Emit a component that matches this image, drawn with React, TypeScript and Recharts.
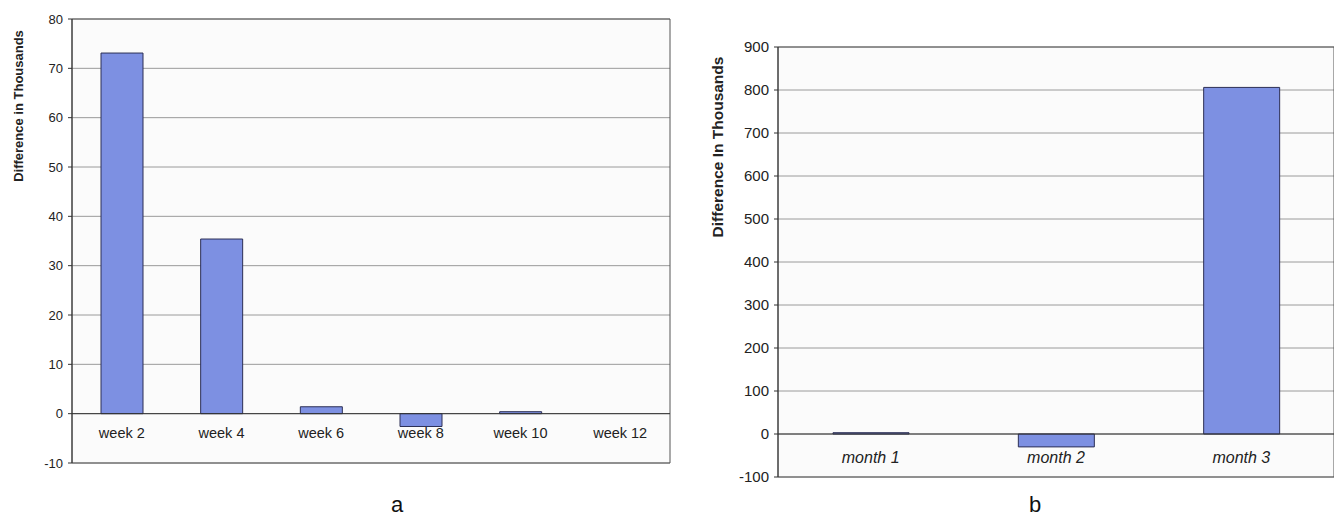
import React from 'react';
import {
  BarChart,
  Bar,
  XAxis,
  YAxis,
  CartesianGrid,
  ReferenceLine,
  ReferenceArea,
} from 'recharts';

const weekLabels = ['week 2', 'week 4', 'week 6', 'week 8', 'week 10', 'week 12'];
const weekValues = [73.1, 35.4, 1.4, -2.6, 0.4, 0];
const weekTicks = [-10, 0, 10, 20, 30, 40, 50, 60, 70, 80];

const monthLabels = ['month 1', 'month 2', 'month 3'];
const monthValues = [3, -30, 806];
const monthTicks = [-100, 0, 100, 200, 300, 400, 500, 600, 700, 800, 900];

const weekData = weekLabels.map((name, i) => ({ name, value: weekValues[i] }));
const monthData = monthLabels.map((name, i) => ({ name, value: monthValues[i] }));

const FONT = 'Arial, "Liberation Sans", Helvetica, sans-serif';
const BAR_FILL = '#7d90e2';
const BAR_STROKE = '#2c2f55';
const GRID = '#9a9a9a';

// x labels sit just under the zero line, inside the plot
const ZeroTick = ({ x, y, payload, dy, fontSize, italic }: any) => (
  <text
    x={x}
    y={y}
    dy={dy}
    textAnchor="middle"
    fill="#222"
    fontSize={fontSize}
    fontFamily={FONT}
    fontStyle={italic ? 'italic' : 'normal'}
  >
    {payload.value}
  </text>
);

const sideLabel = (cx: number, cy: number, size: number): React.CSSProperties => ({
  position: 'absolute',
  left: cx,
  top: cy,
  transform: 'translate(-50%, -50%) rotate(-90deg)',
  whiteSpace: 'nowrap',
  fontFamily: FONT,
  fontSize: size,
  fontWeight: 'bold',
  color: '#222',
});

export default function App() {
  return (
    <div
      style={{
        position: 'absolute',
        left: 0,
        top: 0,
        width: 1334,
        height: 532,
        overflow: 'hidden',
        background: '#fff',
        fontFamily: FONT,
      }}
    >
      {/* chart a */}
      <div style={{ position: 'absolute', left: 0, top: 0 }}>
        <BarChart
          width={680}
          height={532}
          data={weekData}
          margin={{ top: 19, right: 10, left: 32, bottom: 39 }}
          barCategoryGap={0}
        >
          <CartesianGrid vertical={false} stroke={GRID} fill="#fbfbfb" />
          <XAxis
            dataKey="name"
            axisLine={false}
            tickLine={false}
            tickSize={0}
            tickMargin={0}
            height={30}
            interval={0}
            tick={<ZeroTick dy={-25} fontSize={14.5} />}
          />
          <YAxis
            domain={[-10, 80]}
            ticks={weekTicks}
            width={40}
            interval={0}
            axisLine={{ stroke: '#333' }}
            tickLine={{ stroke: '#333' }}
            tickSize={4}
            tickMargin={5}
            tick={{ fill: '#222', fontSize: 13, fontFamily: FONT }}
          />
          <ReferenceArea y1={-10} y2={80} fill="none" stroke="#555" />
          <ReferenceLine y={0} stroke="#333" />
          <Bar
            dataKey="value"
            barSize={42}
            fill={BAR_FILL}
            stroke={BAR_STROKE}
            strokeWidth={1}
            isAnimationActive={false}
          />
        </BarChart>
      </div>
      <div style={sideLabel(18, 106, 13)}>Difference in Thousands</div>

      {/* chart b */}
      <div style={{ position: 'absolute', left: 680, top: 0 }}>
        <BarChart
          width={654}
          height={532}
          data={monthData}
          margin={{ top: 47, right: 0, left: 48, bottom: 25 }}
          barCategoryGap={0}
        >
          <CartesianGrid vertical={false} stroke={GRID} fill="#fbfbfb" />
          <XAxis
            dataKey="name"
            axisLine={false}
            tickLine={false}
            tickSize={0}
            tickMargin={0}
            height={30}
            interval={0}
            tick={<ZeroTick dy={-14} fontSize={16} italic />}
          />
          <YAxis
            domain={[-100, 900]}
            ticks={monthTicks}
            width={50}
            interval={0}
            axisLine={{ stroke: '#333' }}
            tickLine={{ stroke: '#333' }}
            tickSize={4}
            tickMargin={5}
            tick={{ fill: '#222', fontSize: 15, fontFamily: FONT }}
          />
          <ReferenceArea y1={-100} y2={900} fill="none" stroke="#555" />
          <ReferenceLine y={0} stroke="#333" />
          <Bar
            dataKey="value"
            barSize={76}
            fill={BAR_FILL}
            stroke={BAR_STROKE}
            strokeWidth={1}
            isAnimationActive={false}
          />
        </BarChart>
      </div>
      <div style={sideLabel(718, 147, 15.5)}>Difference In Thousands</div>

      <div style={{ position: 'absolute', left: 397, top: 505, transform: 'translate(-50%, -50%)', fontSize: 22, color: '#111' }}>a</div>
      <div style={{ position: 'absolute', left: 1035, top: 505, transform: 'translate(-50%, -50%)', fontSize: 22, color: '#111' }}>b</div>
    </div>
  );
}
